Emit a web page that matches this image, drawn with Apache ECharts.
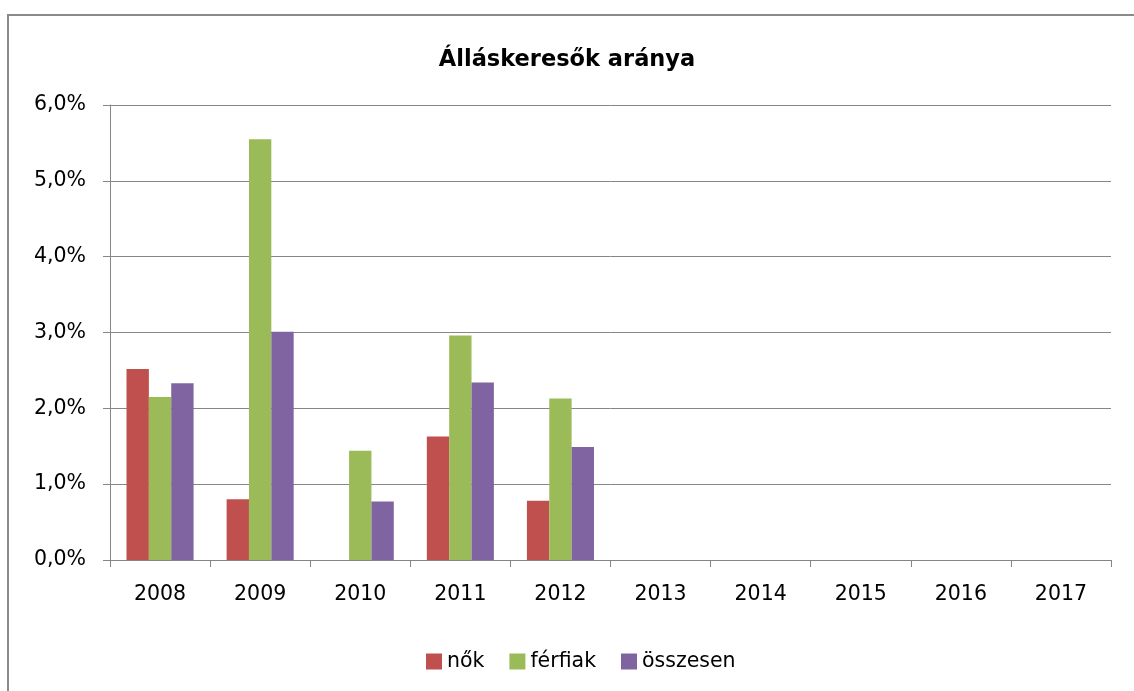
<!DOCTYPE html>
<html>
<head>
<meta charset="utf-8">
<script src="https://cdn.jsdelivr.net/npm/echarts@6/dist/echarts.min.js"></script>
<style>
  html, body { margin: 0; padding: 0; background: #fff; }
  #main { width: 1134px; height: 691px; }
</style>
</head>
<body>
<div id="main"></div>
<script>
// évek
const years = ['2008', '2009', '2010', '2011', '2012', '2013', '2014', '2015', '2016', '2017'];
// arányok százalékban
const nok = [2.52, 0.80, 0, 1.63, 0.78, null, null, null, null, null];
const ferfiak = [2.15, 5.55, 1.44, 2.96, 2.13, null, null, null, null, null];
const osszesen = [2.33, 3.01, 0.77, 2.34, 1.49, null, null, null, null, null];
const seriesNames = ['nők', 'férfiak', 'összesen'];

const font = 'DejaVu Sans';
const axisGray = '#868686';
const labelSize = 20.5;

const chart = echarts.init(document.getElementById('main'));

const option = {
  animation: false,
  textStyle: { fontFamily: font },
  title: {
    text: 'Álláskeresők aránya',
    left: 'center',
    top: 44,
    textStyle: { fontFamily: font, fontSize: 22.5, fontWeight: 'bold', color: '#000' }
  },
  legend: {
    bottom: 14,
    left: 421,
    itemWidth: 16,
    itemHeight: 16,
    itemGap: 25,
    icon: 'rect',
    textStyle: { fontFamily: font, fontSize: labelSize, color: '#000' },
    data: seriesNames
  },
  grid: { left: 110, right: 23, top: 105, bottom: 131 },
  xAxis: {
    type: 'category',
    data: years,
    axisLine: { lineStyle: { color: axisGray, width: 1 } },
    axisTick: { show: true, length: 7, lineStyle: { color: axisGray } },
    axisLabel: { margin: 24, fontSize: labelSize, color: '#000', fontFamily: font }
  },
  yAxis: {
    type: 'value',
    min: 0,
    max: 6,
    interval: 1,
    axisLine: { show: true, lineStyle: { color: axisGray, width: 1 } },
    axisTick: { show: true, inside: false, length: 7, lineStyle: { color: axisGray } },
    splitLine: { lineStyle: { color: axisGray, width: 1 } },
    axisLabel: {
      margin: 24,
      fontSize: labelSize,
      color: '#000',
      fontFamily: font,
      formatter: v => v.toFixed(1).replace('.', ',') + '%'
    }
  },
  series: [
    { name: seriesNames[0], type: 'bar', data: nok, itemStyle: { color: '#C0504D' }, barGap: '0%', barCategoryGap: '33%' },
    { name: seriesNames[1], type: 'bar', data: ferfiak, itemStyle: { color: '#9BBB59' }, barGap: '0%', barCategoryGap: '33%' },
    { name: seriesNames[2], type: 'bar', data: osszesen, itemStyle: { color: '#8064A2' }, barGap: '0%', barCategoryGap: '33%' }
  ],
  graphic: [
    {
      type: 'polyline',
      shape: { points: [[8, 691], [8, 15], [1134, 15]] },
      style: { stroke: '#8a8a8a', lineWidth: 2, fill: null }
    }
  ]
};

chart.setOption(option);
</script>
</body>
</html>
